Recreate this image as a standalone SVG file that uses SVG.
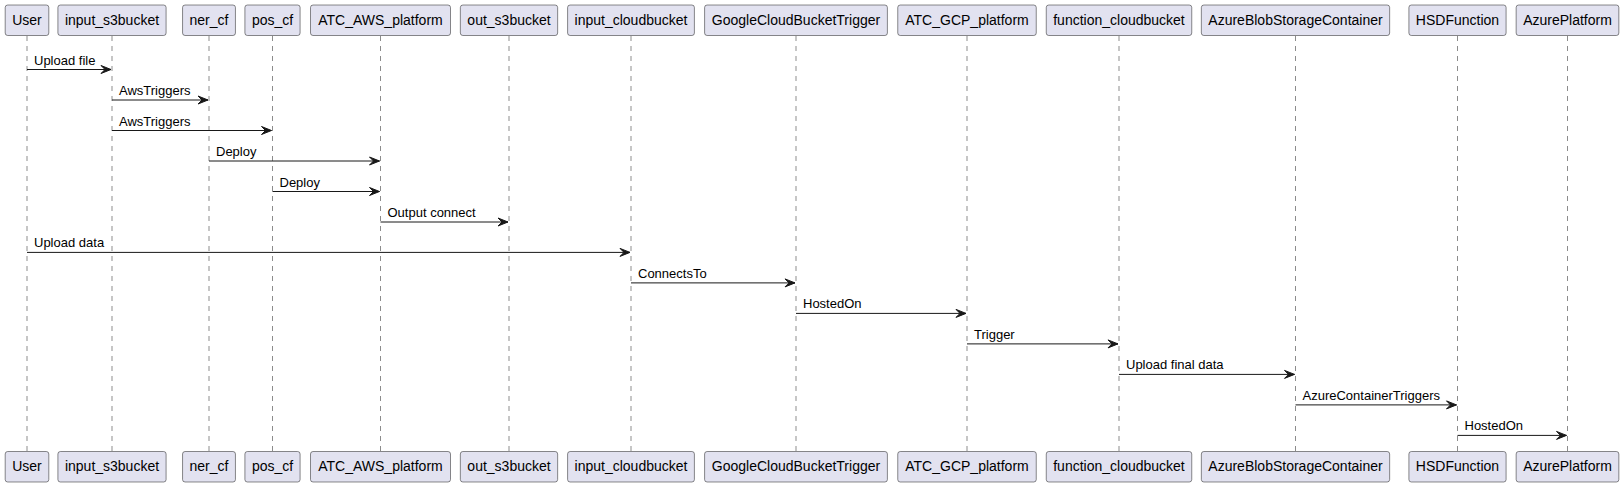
<svg xmlns="http://www.w3.org/2000/svg" width="1624" height="487" viewBox="0 0 1624 487">
<style>
.box{fill:#E2E2F0;stroke:#181818;stroke-width:0.5}
.life{stroke:#181818;stroke-width:0.5;stroke-dasharray:5,5;fill:none}
.pt{font-family:"Liberation Sans",Arial,sans-serif;font-size:14px;fill:#000;text-anchor:middle}
.msg{stroke:#181818;stroke-width:1;fill:none}
.ml{font-family:"Liberation Sans",Arial,sans-serif;font-size:13px;fill:#000}
.ah{fill:#181818;stroke:#181818;stroke-width:1}
</style>
<rect width="1624" height="487" fill="#FFFFFF"/>
<g id="lifelines">
<line class="life" x1="27" y1="36" x2="27" y2="451.5"/>
<line class="life" x1="112" y1="36" x2="112" y2="451.5"/>
<line class="life" x1="209" y1="36" x2="209" y2="451.5"/>
<line class="life" x1="272.5" y1="36" x2="272.5" y2="451.5"/>
<line class="life" x1="380.5" y1="36" x2="380.5" y2="451.5"/>
<line class="life" x1="509" y1="36" x2="509" y2="451.5"/>
<line class="life" x1="631" y1="36" x2="631" y2="451.5"/>
<line class="life" x1="796" y1="36" x2="796" y2="451.5"/>
<line class="life" x1="967" y1="36" x2="967" y2="451.5"/>
<line class="life" x1="1119" y1="36" x2="1119" y2="451.5"/>
<line class="life" x1="1295.5" y1="36" x2="1295.5" y2="451.5"/>
<line class="life" x1="1457.5" y1="36" x2="1457.5" y2="451.5"/>
<line class="life" x1="1567.5" y1="36" x2="1567.5" y2="451.5"/>
</g>
<g id="User">
<rect class="box" x="5.2" y="5" width="43.6" height="30.5" rx="2.5"/><text class="pt" x="27" y="24.5">User</text>
<rect class="box" x="5.2" y="451.5" width="43.6" height="30.5" rx="2.5"/><text class="pt" x="27" y="471">User</text>
</g>
<g id="input_s3bucket">
<rect class="box" x="57.9" y="5" width="108.2" height="30.5" rx="2.5"/><text class="pt" x="112" y="24.5">input_s3bucket</text>
<rect class="box" x="57.9" y="451.5" width="108.2" height="30.5" rx="2.5"/><text class="pt" x="112" y="471">input_s3bucket</text>
</g>
<g id="ner_cf">
<rect class="box" x="182.55" y="5" width="52.9" height="30.5" rx="2.5"/><text class="pt" x="209" y="24.5">ner_cf</text>
<rect class="box" x="182.55" y="451.5" width="52.9" height="30.5" rx="2.5"/><text class="pt" x="209" y="471">ner_cf</text>
</g>
<g id="pos_cf">
<rect class="box" x="244.9" y="5" width="55.2" height="30.5" rx="2.5"/><text class="pt" x="272.5" y="24.5">pos_cf</text>
<rect class="box" x="244.9" y="451.5" width="55.2" height="30.5" rx="2.5"/><text class="pt" x="272.5" y="471">pos_cf</text>
</g>
<g id="ATC_AWS_platform">
<rect class="box" x="310.5" y="5" width="140" height="30.5" rx="2.5"/><text class="pt" x="380.5" y="24.5">ATC_AWS_platform</text>
<rect class="box" x="310.5" y="451.5" width="140" height="30.5" rx="2.5"/><text class="pt" x="380.5" y="471">ATC_AWS_platform</text>
</g>
<g id="out_s3bucket">
<rect class="box" x="460.35" y="5" width="97.3" height="30.5" rx="2.5"/><text class="pt" x="509" y="24.5">out_s3bucket</text>
<rect class="box" x="460.35" y="451.5" width="97.3" height="30.5" rx="2.5"/><text class="pt" x="509" y="471">out_s3bucket</text>
</g>
<g id="input_cloudbucket">
<rect class="box" x="567.6" y="5" width="126.8" height="30.5" rx="2.5"/><text class="pt" x="631" y="24.5">input_cloudbucket</text>
<rect class="box" x="567.6" y="451.5" width="126.8" height="30.5" rx="2.5"/><text class="pt" x="631" y="471">input_cloudbucket</text>
</g>
<g id="GoogleCloudBucketTrigger">
<rect class="box" x="704.6" y="5" width="182.8" height="30.5" rx="2.5"/><text class="pt" x="796" y="24.5">GoogleCloudBucketTrigger</text>
<rect class="box" x="704.6" y="451.5" width="182.8" height="30.5" rx="2.5"/><text class="pt" x="796" y="471">GoogleCloudBucketTrigger</text>
</g>
<g id="ATC_GCP_platform">
<rect class="box" x="897.75" y="5" width="138.5" height="30.5" rx="2.5"/><text class="pt" x="967" y="24.5">ATC_GCP_platform</text>
<rect class="box" x="897.75" y="451.5" width="138.5" height="30.5" rx="2.5"/><text class="pt" x="967" y="471">ATC_GCP_platform</text>
</g>
<g id="function_cloudbucket">
<rect class="box" x="1046.25" y="5" width="145.5" height="30.5" rx="2.5"/><text class="pt" x="1119" y="24.5">function_cloudbucket</text>
<rect class="box" x="1046.25" y="451.5" width="145.5" height="30.5" rx="2.5"/><text class="pt" x="1119" y="471">function_cloudbucket</text>
</g>
<g id="AzureBlobStorageContainer">
<rect class="box" x="1201.35" y="5" width="188.3" height="30.5" rx="2.5"/><text class="pt" x="1295.5" y="24.5">AzureBlobStorageContainer</text>
<rect class="box" x="1201.35" y="451.5" width="188.3" height="30.5" rx="2.5"/><text class="pt" x="1295.5" y="471">AzureBlobStorageContainer</text>
</g>
<g id="HSDFunction">
<rect class="box" x="1408.9" y="5" width="97.2" height="30.5" rx="2.5"/><text class="pt" x="1457.5" y="24.5">HSDFunction</text>
<rect class="box" x="1408.9" y="451.5" width="97.2" height="30.5" rx="2.5"/><text class="pt" x="1457.5" y="471">HSDFunction</text>
</g>
<g id="AzurePlatform">
<rect class="box" x="1516.15" y="5" width="102.7" height="30.5" rx="2.5"/><text class="pt" x="1567.5" y="24.5">AzurePlatform</text>
<rect class="box" x="1516.15" y="451.5" width="102.7" height="30.5" rx="2.5"/><text class="pt" x="1567.5" y="471">AzurePlatform</text>
</g>
<g id="connectors">
<line class="msg" x1="27" y1="69.5" x2="111" y2="69.5"/><polygon class="ah" points="101,65.5 111,69.5 101,73.5 105,69.5"/><text class="ml" x="34" y="64.5">Upload file</text>
<line class="msg" x1="112" y1="100" x2="208" y2="100"/><polygon class="ah" points="198,96 208,100 198,104 202,100"/><text class="ml" x="119" y="95">AwsTriggers</text>
<line class="msg" x1="112" y1="130.5" x2="271.5" y2="130.5"/><polygon class="ah" points="261.5,126.5 271.5,130.5 261.5,134.5 265.5,130.5"/><text class="ml" x="119" y="125.5">AwsTriggers</text>
<line class="msg" x1="209" y1="161" x2="379.5" y2="161"/><polygon class="ah" points="369.5,157 379.5,161 369.5,165 373.5,161"/><text class="ml" x="216" y="156">Deploy</text>
<line class="msg" x1="272.5" y1="191.5" x2="379.5" y2="191.5"/><polygon class="ah" points="369.5,187.5 379.5,191.5 369.5,195.5 373.5,191.5"/><text class="ml" x="279.5" y="186.5">Deploy</text>
<line class="msg" x1="380.5" y1="222" x2="508" y2="222"/><polygon class="ah" points="498,218 508,222 498,226 502,222"/><text class="ml" x="387.5" y="217">Output connect</text>
<line class="msg" x1="27" y1="252.4" x2="630" y2="252.4"/><polygon class="ah" points="620,248.4 630,252.4 620,256.4 624,252.4"/><text class="ml" x="34" y="247.4">Upload data</text>
<line class="msg" x1="631" y1="282.9" x2="795" y2="282.9"/><polygon class="ah" points="785,278.9 795,282.9 785,286.9 789,282.9"/><text class="ml" x="638" y="277.9">ConnectsTo</text>
<line class="msg" x1="796" y1="313.4" x2="966" y2="313.4"/><polygon class="ah" points="956,309.4 966,313.4 956,317.4 960,313.4"/><text class="ml" x="803" y="308.4">HostedOn</text>
<line class="msg" x1="967" y1="343.9" x2="1118" y2="343.9"/><polygon class="ah" points="1108,339.9 1118,343.9 1108,347.9 1112,343.9"/><text class="ml" x="974" y="338.9">Trigger</text>
<line class="msg" x1="1119" y1="374.4" x2="1294.5" y2="374.4"/><polygon class="ah" points="1284.5,370.4 1294.5,374.4 1284.5,378.4 1288.5,374.4"/><text class="ml" x="1126" y="369.4">Upload final data</text>
<line class="msg" x1="1295.5" y1="404.9" x2="1456.5" y2="404.9"/><polygon class="ah" points="1446.5,400.9 1456.5,404.9 1446.5,408.9 1450.5,404.9"/><text class="ml" x="1302.5" y="399.9">AzureContainerTriggers</text>
<line class="msg" x1="1457.5" y1="435.4" x2="1566.5" y2="435.4"/><polygon class="ah" points="1556.5,431.4 1566.5,435.4 1556.5,439.4 1560.5,435.4"/><text class="ml" x="1464.5" y="430.4">HostedOn</text>
</g>
</svg>
